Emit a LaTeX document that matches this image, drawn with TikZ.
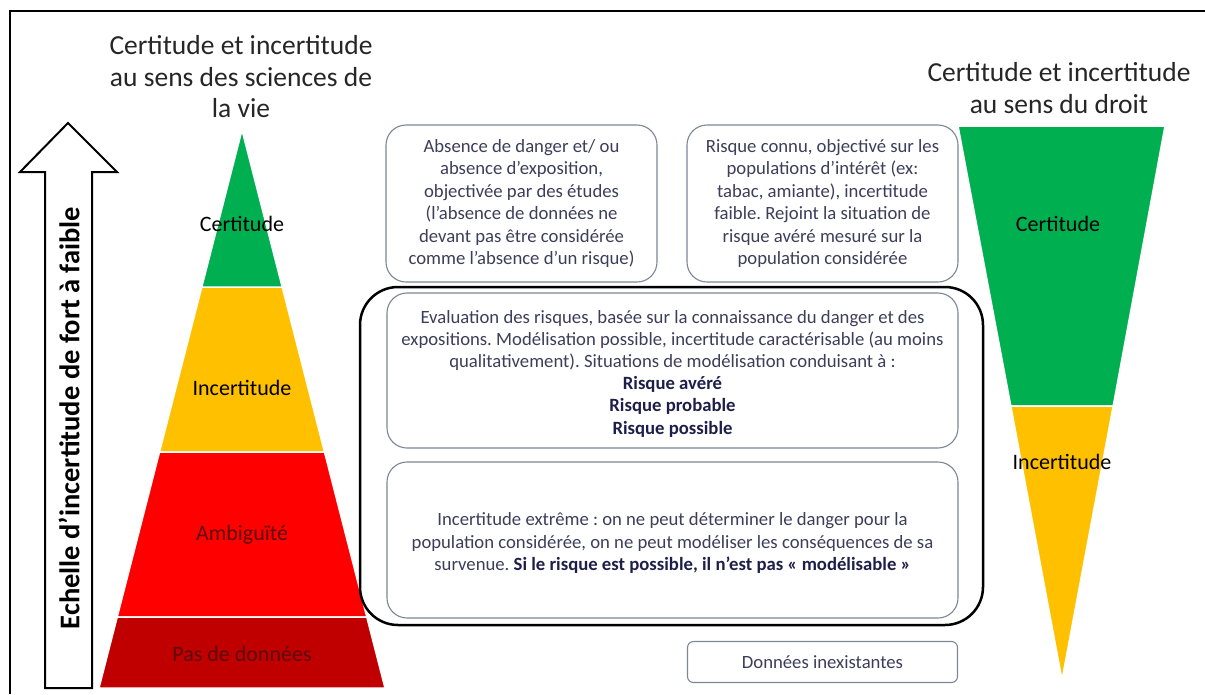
\documentclass[tikz,border=0pt]{standalone}
\usepackage{fontspec}
\setmainfont{Carlito}
\frenchspacing
\definecolor{pgreen}{RGB}{0,176,80}
\definecolor{pyellow}{RGB}{255,192,0}
\definecolor{pred}{RGB}{255,0,0}
\definecolor{pdarkred}{RGB}{192,0,0}
\definecolor{boxtext}{RGB}{60,62,90}
\definecolor{boldtext}{RGB}{30,30,75}
\definecolor{boxline}{RGB}{125,135,150}
\definecolor{redlabel}{RGB}{95,10,10}
\tikzset{
  textbox/.style={draw=boxline, line width=1.1pt, rounded corners=20pt, align=center, text=boxtext,
    font=\fontsize{18.7}{22.4}\selectfont, inner sep=0pt},
  layerlabel/.style={font=\fontsize{22}{26}\selectfont, text=black},
  titletext/.style={font=\fontsize{27.5}{31.5}\selectfont, align=center, text=black!85},
  layerfill/.style={draw=white, line width=1.5pt}
}
\begin{document}
\begin{tikzpicture}[x=1pt,y=-1pt]
\useasboundingbox (0,0) rectangle (1205,694);
\fill[white] (0,0) rectangle (1205,694);
% frame
\draw[line width=2pt] (10,694) -- (10,11) -- (1205,11);

% titles
\node[titletext] (tleft) at (241,77) {Certitude et incertitude\\au sens des sciences de\\la vie};
\node[titletext] (tright) at (1059,88) {Certitude et incertitude\\au sens du droit};

% left arrow
\draw[line width=2pt, line join=miter, fill=white] (45,688) -- (45,172) -- (20,172) -- (68,123) -- (117,172) -- (92,172) -- (92,688) -- cycle;
\node[rotate=90, font=\bfseries\fontsize{28.5}{32}\selectfont] (scale) at (69,418) {Echelle d’incertitude de fort à faible};

% left pyramid: apex (242,130), slope 0.2563
\draw[layerfill, fill=pyellow] (201.8,287) -- (282.2,287) -- (324.5,452) -- (159.5,452) -- cycle;
\draw[layerfill, fill=pgreen] (242,130) -- (282.2,287) -- (201.8,287) -- cycle;
\draw[layerfill, fill=pred] (159.5,452) -- (324.5,452) -- (366.8,617) -- (117.2,617) -- cycle;
\draw[layerfill, fill=pdarkred] (117.2,617) -- (366.8,617) -- (385,688) -- (99,688) -- cycle;
\node[layerlabel] (lcert) at (242,224) {Certitude};
\node[layerlabel] (lincert) at (242,388) {Incertitude};
\node[layerlabel, text=redlabel] (lamb) at (242,535) {Ambiguïté};
\node[layerlabel, text=redlabel] (lpas) at (242,654) {Pas de données};

% right inverted triangle
\draw[layerfill, fill=pgreen] (958,126) -- (1165,126) -- (1113.2,406) -- (1010.8,406) -- cycle;
\draw[layerfill, fill=pyellow] (1010.8,406) -- (1113.2,406) -- (1062,680) -- cycle;
\node[layerlabel] (rcert) at (1058,224) {Certitude};
\node[layerlabel] (rincert) at (1062,462) {Incertitude};

% top boxes
\node[textbox, minimum width=271pt, minimum height=157pt] (boxA) at (521.5,203.5)
  {Absence de danger et/ ou\\absence d’exposition,\\objectivée par des études\\(l’absence de données ne\\devant pas être considérée\\comme l’absence d’un risque)};
\node[textbox, minimum width=271pt, minimum height=157pt] (boxB) at (822.5,203.5)
  {Risque connu, objectivé sur les\\populations d’intérêt (ex:\\tabac, amiante), incertitude\\faible. Rejoint la situation de\\risque avéré mesuré sur la\\population considérée};

% black enclosing box
\node[draw=black, line width=2.5pt, rounded corners=38pt, minimum width=623pt, minimum height=338pt, inner sep=0pt] (group) at (671.5,456) {};

\node[textbox, minimum width=571pt, minimum height=155pt] (boxC) at (672.5,370.5) {};
\node[align=center, text=boxtext, font=\fontsize{18.7}{22.2}\selectfont, inner sep=0pt] (textC) at (672.5,373.5)
  {Evaluation des risques, basée sur la connaissance du danger et des\\expositions. Modélisation possible, incertitude caractérisable (au moins\\qualitativement). Situations de modélisation conduisant à :\\
  \textcolor{boldtext}{\bfseries Risque avéré}\\\textcolor{boldtext}{\bfseries Risque probable}\\\textcolor{boldtext}{\bfseries Risque possible}};
\node[textbox, minimum width=571pt, minimum height=156pt] (boxD) at (672.5,540) {};
\node[align=center, text=boxtext, font=\fontsize{18.7}{22.2}\selectfont, inner sep=0pt] (textD) at (672.5,543)
  {Incertitude extrême : on ne peut déterminer le danger pour la\\population considérée, on ne peut modéliser les conséquences de sa\\survenue. \textcolor{boldtext}{\bfseries Si le risque est possible, il n’est pas « modélisable »}};

\node[textbox, rounded corners=6pt, minimum width=270pt, minimum height=41pt] (boxE) at (822.5,662) {Données inexistantes};
\end{tikzpicture}
\end{document}
